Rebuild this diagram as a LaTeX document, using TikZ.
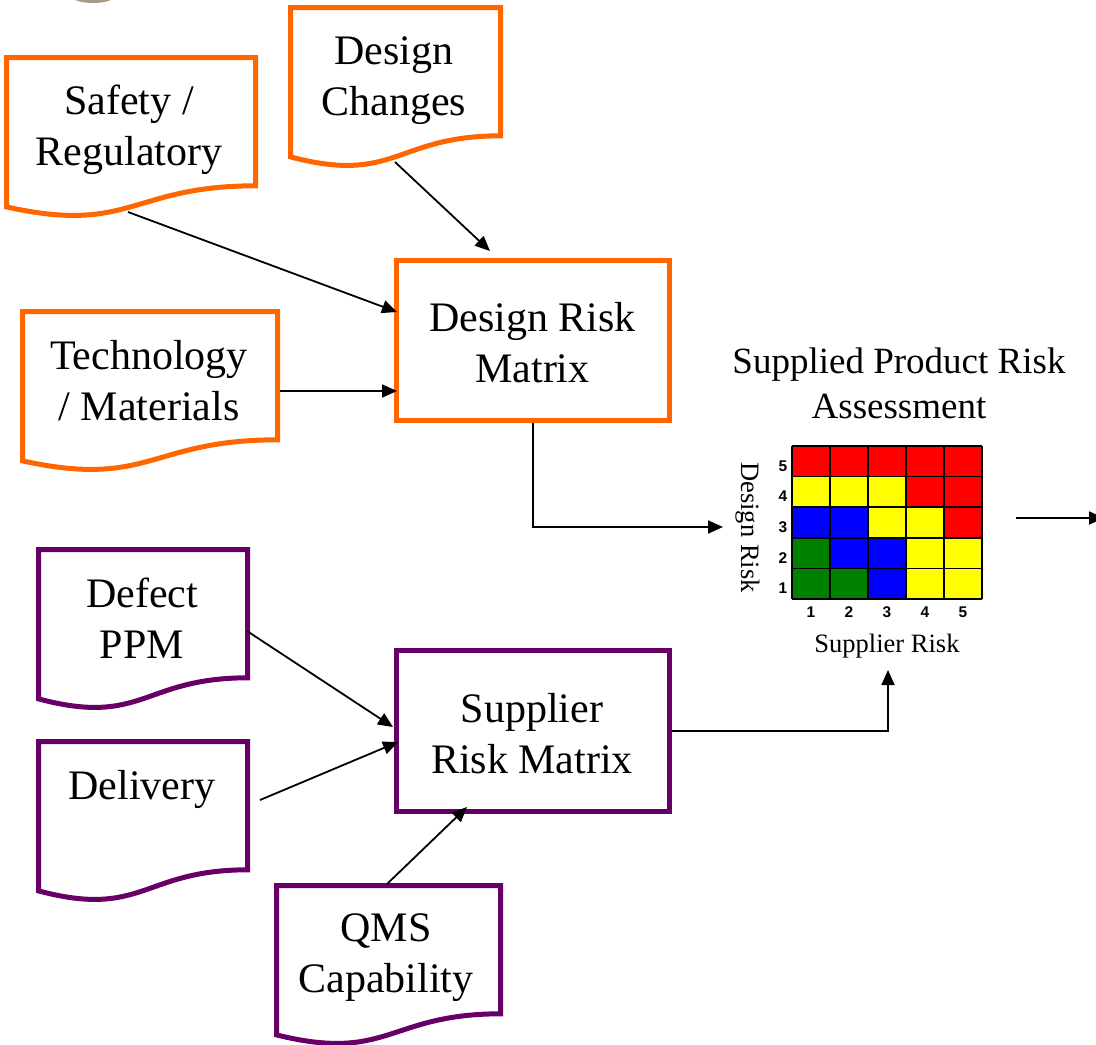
\documentclass[tikz,border=0pt]{standalone}
\usepackage{fontspec}
\setmainfont{Liberation Serif}
\newfontfamily\numfont{Liberation Sans}
\usetikzlibrary{arrows.meta}
\definecolor{orng}{HTML}{FF6600}
\definecolor{purp}{HTML}{660066}
\definecolor{mred}{HTML}{FF0000}
\definecolor{myel}{HTML}{FFFF00}
\definecolor{mblu}{HTML}{0000FF}
\definecolor{mgrn}{HTML}{008000}
\definecolor{blob}{HTML}{A89A88}
\tikzset{
  docline/.style={line width=5pt, fill=white, line join=miter},
  boxtext/.style={font=\fontsize{42}{51}\selectfont, align=center, inner sep=0pt},
  titletext/.style={font=\fontsize{37}{45}\selectfont, align=center, inner sep=0pt},
  axistext/.style={font=\fontsize{26.5}{30}\selectfont, inner sep=0pt},
  conn/.style={line width=1.8pt, -{Triangle[length=15pt,width=13pt]}},
  riskbox/.style={draw, line width=5pt, fill=white, minimum width=273pt, inner sep=0pt},
  numlbl/.style={font=\numfont\bfseries\fontsize{15.5}{18}\selectfont, inner sep=0pt},
  gridline/.style={line width=1.6pt, black}
}
% document shape: left, top, right, colour
\newcommand{\docshape}[4]{%
  \draw[docline, draw=#4] (#1,#2) -- (#3,#2) -- (#3,#2+128.3)
    .. controls ({(#1+#3)/2},#2+128.3) and ({(#1+#3)/2},#2+177.1) .. (#1,#2+149.4) -- cycle;
}
\begin{document}
\begin{tikzpicture}[x=1pt,y=-1pt]
\useasboundingbox (0,0) rectangle (1096,1045);
\clip (0,0) rectangle (1096,1045);
\fill[blob] (93,-5) ellipse [x radius=23pt, y radius=8pt];

% input documents
\docshape{6.5}{57.5}{255.5}{orng}
\node[boxtext] (safety) at (129,129.5) {\strut Safety /\\\strut Regulatory};
\docshape{290.5}{7.5}{500.5}{orng}
\node[boxtext] (changes) at (394,79.8) {\strut Design\\\strut Changes};
\docshape{22.5}{311.5}{277.5}{orng}
\node[boxtext] (tech) at (149,384.3) {\strut Technology\\\strut / Materials};
\docshape{38.5}{549.5}{247.5}{purp}
\node[boxtext] (defect) at (142,622.8) {\strut Defect\\\strut PPM};
\docshape{38.5}{741.5}{247.5}{purp}
\node[boxtext] (delivery) at (142,788.8) {\strut Delivery};
\docshape{276.5}{885.5}{500.5}{purp}
\node[boxtext] (qms) at (386,956.8) {\strut QMS\\\strut Capability};

% risk matrices (boxes)
\node[riskbox, draw=orng, minimum height=160pt] (drm) at (533,340.5) {};
\node[boxtext] (drmtxt) at (532.5,346.8) {\strut Design Risk\\\strut Matrix};
\node[riskbox, draw=purp, minimum height=161pt] (srm) at (533,731) {};
\node[boxtext] (srmtxt) at (532,737.8) {\strut Supplier\\\strut Risk Matrix};

% connector end points on the document shapes
\coordinate (safetyout) at (128,212);
\coordinate (changesout) at (395,162);
\coordinate (techout) at (280,391);
\coordinate (defectout) at (247,631);
\coordinate (deliveryout) at (260,800);
\coordinate (qmsout) at (387,884);
\coordinate (mxin) at (723,527);
\coordinate (mxup) at (888,670);
\coordinate (outstart) at (1016,518);
\coordinate (outend) at (1104,518);

% assessment grid
\node[titletext] (title) at (899,387) {\strut Supplied Product Risk\\\strut Assessment};
\foreach \row/\cols in {0/{mred,mred,mred,mred,mred},
                        1/{myel,myel,myel,mred,mred},
                        2/{mblu,mblu,myel,myel,mred},
                        3/{mgrn,mblu,mblu,myel,myel},
                        4/{mgrn,mgrn,mblu,myel,myel}}{
  \foreach \c [count=\i from 0] in \cols {
    \fill[\c] (792+38*\i,446+30.6*\row) rectangle ++(38,30.6);
  }
}
\foreach \i in {0,...,5}{
  \draw[gridline] (792+38*\i,446) -- (792+38*\i,599);
  \draw[gridline] (792,446+30.6*\i) -- (982,446+30.6*\i);
}
\foreach \n [count=\k from 0] in {5,4,3,2,1}{
  \node[numlbl] (rl\n) at (783,466+30.6*\k) {\n};
}
\foreach \n in {1,...,5}{
  \node[numlbl] (cl\n) at (773+38*\n,612) {\n};
}
\node[axistext, anchor=base] (suprisk) at (887,652) {Supplier Risk};
\node[axistext, anchor=base, rotate=-90] (desrisk) at (741,527.5) {Design Risk};

% connectors
\draw[conn] (safetyout) -- ([shift={(3,-28.5)}]drm.west);
\draw[conn] (changesout) -- ([shift={(-43,-7)}]drm.north);
\draw[conn] (techout) -- ([shift={(3,50.5)}]drm.west);
\draw[conn] (drm.south) |- (mxin);
\draw[conn] (outstart) -- (outend);
\draw[conn] (defectout) -- ([shift={(-1,-4)}]srm.west);
\draw[conn] (deliveryout) -- ([shift={(4,11)}]srm.west);
\draw[conn] (qmsout) -- ([shift={(-66,-7)}]srm.south);
\draw[conn] (srm.east) -| (mxup);
\end{tikzpicture}
\end{document}
